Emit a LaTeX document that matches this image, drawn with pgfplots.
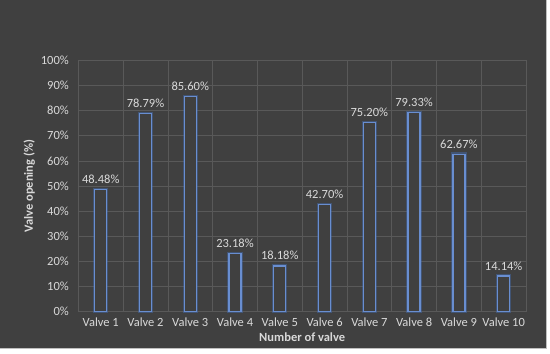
\documentclass[border=0pt]{standalone}
\usepackage{pgfplots}
\pgfplotsset{compat=1.18}
\usepackage{fontspec}
\setmainfont{Carlito}
\definecolor{bg}{HTML}{404040}
\definecolor{gridc}{HTML}{595959}
\definecolor{txt}{HTML}{D9D9D9}
\definecolor{barc}{HTML}{4472C4}
\begin{document}
\begin{tikzpicture}[x=1pt,y=1pt]
\fill[white] (0,0) rectangle (550,353);
\fill[bg] (0,5) rectangle (546,353);
\draw[line width=0.8pt, black!25] (0,5) -- (546,5) -- (546,353);
\begin{axis}[
  at={(78pt,41.5pt)}, anchor=south west,
  scale only axis, width=448pt, height=251.5pt,
  xmin=0.5, xmax=10.5, ymin=0, ymax=100,
  xtick={1,...,10},
  xticklabels={Valve 1,Valve 2,Valve 3,Valve 4,Valve 5,Valve 6,Valve 7,Valve 8,Valve 9,Valve 10},
  minor xtick={0.5,1.5,...,10.5},
  ytick={0,10,...,100},
  yticklabel={\pgfmathprintnumber{\tick}\%},
  /pgf/number format/assume math mode=true,
  major tick length=0pt, minor tick length=0pt,
  ymajorgrids, xminorgrids,
  grid style={gridc, line width=0.7pt},
  minor grid style={gridc, line width=0.7pt},
  axis line style={gridc, line width=0.7pt},
  tick label style={font=\fontsize{12.5}{14}\selectfont, text=txt},
  xticklabel style={yshift=-3pt},
  yticklabel style={xshift=-6pt},
  xlabel={Number of valve},
  ylabel={Valve opening (\%)},
  label style={font=\bfseries\fontsize{12.5}{14}\selectfont, text=txt},
  xlabel style={yshift=1pt},
  ylabel style={yshift=-1pt},
  clip=false,
]
\addplot[ybar, bar width=12pt, bar shift=0pt, draw=barc, opacity=0.4, line width=3.4pt, fill=none]
 coordinates {(1,48.48) (2,78.79) (3,85.60) (4,23.18) (5,18.18) (6,42.70) (7,75.20) (8,79.33) (9,62.67) (10,14.14)};
\addplot[ybar, bar width=12pt, bar shift=0pt, draw=barc!80!white, line width=1.3pt, fill=bg,
  nodes near coords={\pgfmathprintnumber[fixed,fixed zerofill,precision=2]{\pgfplotspointmeta}\%},
  nodes near coords style={font=\fontsize{12.5}{14}\selectfont, text=txt, yshift=2pt, /pgf/number format/assume math mode=true}]
 coordinates {(1,48.48) (2,78.79) (3,85.60) (4,23.18) (5,18.18) (6,42.70) (7,75.20) (8,79.33) (9,62.67) (10,14.14)};
\end{axis}
\end{tikzpicture}
\end{document}
